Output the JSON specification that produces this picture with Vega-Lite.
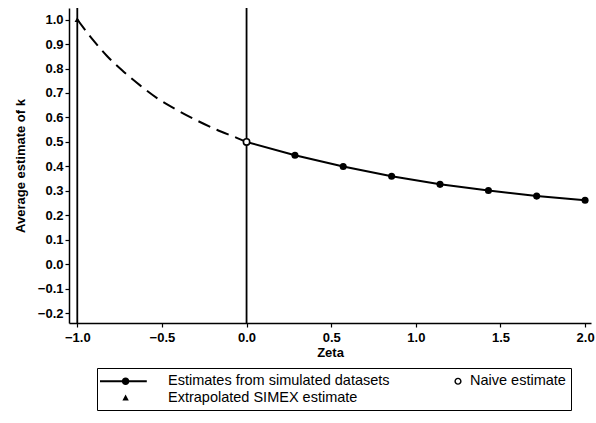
{
  "$schema": "https://vega.github.io/schema/vega-lite/v6.json",
  "autosize": "none",
  "width": 522,
  "height": 315,
  "padding": {"left": 69, "top": 8, "right": 5, "bottom": 100},
  "background": "white",
  "config": {
    "view": {"stroke": null},
    "font": "Liberation Sans",
    "axis": {
      "grid": false,
      "domainColor": "black",
      "domainWidth": 1.5,
      "tickColor": "black",
      "tickWidth": 1.2,
      "tickSize": 4,
      "labelOverlap": false,
      "labelFont": "Liberation Sans",
      "labelFontSize": 13,
      "labelFontWeight": "bold",
      "labelColor": "black",
      "titleFont": "Liberation Sans",
      "titleFontSize": 13,
      "titleFontWeight": "bold",
      "titleColor": "black"
    },
    "axisX": {"tickCount": 7, "labelPadding": 4, "titlePadding": 2},
    "axisY": {"tickCount": 13, "labelPadding": 2, "titlePadding": 10}
  },
  "datasets": {
    "curve": [
      {"zeta": -1.0, "k": 1.0, "part": "extrapolated"},
      {"zeta": -0.905, "k": 0.915, "part": "extrapolated"},
      {"zeta": -0.826, "k": 0.852, "part": "extrapolated"},
      {"zeta": -0.728, "k": 0.788, "part": "extrapolated"},
      {"zeta": -0.629, "k": 0.731, "part": "extrapolated"},
      {"zeta": -0.531, "k": 0.680, "part": "extrapolated"},
      {"zeta": -0.412, "k": 0.631, "part": "extrapolated"},
      {"zeta": -0.294, "k": 0.588, "part": "extrapolated"},
      {"zeta": -0.176, "k": 0.550, "part": "extrapolated"},
      {"zeta": -0.058, "k": 0.517, "part": "extrapolated"},
      {"zeta": 0.0, "k": 0.5, "part": "extrapolated"},
      {"zeta": 0.0, "k": 0.5, "part": "simulated"},
      {"zeta": 0.286, "k": 0.446, "part": "simulated"},
      {"zeta": 0.571, "k": 0.400, "part": "simulated"},
      {"zeta": 0.857, "k": 0.360, "part": "simulated"},
      {"zeta": 1.143, "k": 0.327, "part": "simulated"},
      {"zeta": 1.429, "k": 0.302, "part": "simulated"},
      {"zeta": 1.714, "k": 0.279, "part": "simulated"},
      {"zeta": 2.0, "k": 0.262, "part": "simulated"}
    ],
    "points": [
      {"zeta": 0.286, "k": 0.446, "series": "Estimates from simulated datasets"},
      {"zeta": 0.571, "k": 0.400, "series": "Estimates from simulated datasets"},
      {"zeta": 0.857, "k": 0.360, "series": "Estimates from simulated datasets"},
      {"zeta": 1.143, "k": 0.327, "series": "Estimates from simulated datasets"},
      {"zeta": 1.429, "k": 0.302, "series": "Estimates from simulated datasets"},
      {"zeta": 1.714, "k": 0.279, "series": "Estimates from simulated datasets"},
      {"zeta": 2.0, "k": 0.262, "series": "Estimates from simulated datasets"},
      {"zeta": 0.0, "k": 0.5, "series": "Naive estimate"},
      {"zeta": -1.0, "k": 1.0, "series": "Extrapolated SIMEX estimate"}
    ]
  },
  "encoding": {
    "x": {
      "field": "zeta", "type": "quantitative", "title": "Zeta",
      "scale": {"domain": [-1.049, 2.035], "nice": false, "zero": false},
      "axis": {"values": [-1, -0.5, 0, 0.5, 1, 1.5, 2], "format": ".1f"}
    },
    "y": {
      "field": "k", "type": "quantitative", "title": "Average estimate of k",
      "scale": {"domain": [-0.239, 1.047], "nice": false, "zero": false},
      "axis": {"values": [-0.2, -0.1, 0, 0.1, 0.2, 0.3, 0.4, 0.5, 0.6, 0.7, 0.8, 0.9, 1.0], "format": ".1f"}
    }
  },
  "layer": [
    {
      "data": {"name": "curve"},
      "mark": {"type": "rule", "color": "black", "strokeWidth": 1.8},
      "transform": [{"filter": "datum.part === 'extrapolated' && (datum.zeta === -1 || datum.zeta === 0)"}],
      "encoding": {"y": {"datum": -0.239}, "y2": {"datum": 1.047}}
    },
    {
      "data": {"name": "curve"},
      "transform": [{"filter": "datum.part === 'extrapolated'"}],
      "mark": {"type": "line", "color": "black", "strokeWidth": 2, "strokeDash": [13, 7], "interpolate": "monotone"}
    },
    {
      "data": {"name": "curve"},
      "transform": [{"filter": "datum.part === 'simulated'"}],
      "mark": {"type": "line", "color": "black", "strokeWidth": 2}
    },
    {
      "data": {"name": "points"},
      "transform": [{"filter": "datum.series === 'Estimates from simulated datasets'"}],
      "mark": {"type": "point", "shape": "circle", "filled": true, "color": "black", "size": 50, "opacity": 1}
    },
    {
      "data": {"name": "points"},
      "transform": [{"filter": "datum.series === 'Naive estimate'"}],
      "mark": {"type": "point", "shape": "circle", "filled": false, "fill": "white", "stroke": "black", "strokeWidth": 1.6, "size": 40, "opacity": 1, "fillOpacity": 1}
    },
    {
      "data": {"name": "points"},
      "transform": [{"filter": "datum.series === 'Extrapolated SIMEX estimate'"}],
      "mark": {"type": "point", "shape": "triangle-up", "filled": true, "color": "black", "size": 30, "opacity": 1}
    },
    {
      "data": {"name": "points"},
      "mark": {"type": "point", "filled": true, "color": "black", "strokeWidth": 0, "opacity": 0},
      "encoding": {
        "shape": {
          "field": "series", "type": "nominal", "title": null,
          "scale": {
            "domain": ["Estimates from simulated datasets", "Naive estimate", "Extrapolated SIMEX estimate"],
            "range": [
              "M-1.25,-0.12H4.6V0.12H-1.25ZM1.48,0A0.47,0.47,0,1,1,2.42,0A0.47,0.47,0,1,1,1.48,0Z",
              "M5.3,0A0.45,0.45,0,1,1,6.2,0A0.45,0.45,0,1,1,5.3,0ZM5.48,0A0.27,0.27,0,1,0,6.02,0A0.27,0.27,0,1,0,5.48,0Z",
              "M1.95,-0.45L2.35,0.3L1.55,0.3Z"
            ]
          },
          "legend": {
            "orient": "none",
            "legendX": 28,
            "legendY": 360,
            "direction": "horizontal",
            "columns": 2,
            "columnPadding": 14,
            "rowPadding": 2,
            "padding": 5,
            "strokeColor": "black",
            "symbolSize": 256,
            "symbolOpacity": 1,
            "symbolFillColor": "black",
            "symbolStrokeWidth": 0,
            "labelOffset": 50,
            "labelFont": "Liberation Sans",
            "labelFontSize": 14.5,
            "labelColor": "black",
            "labelLimit": 400
          }
        }
      }
    }
  ]
}
